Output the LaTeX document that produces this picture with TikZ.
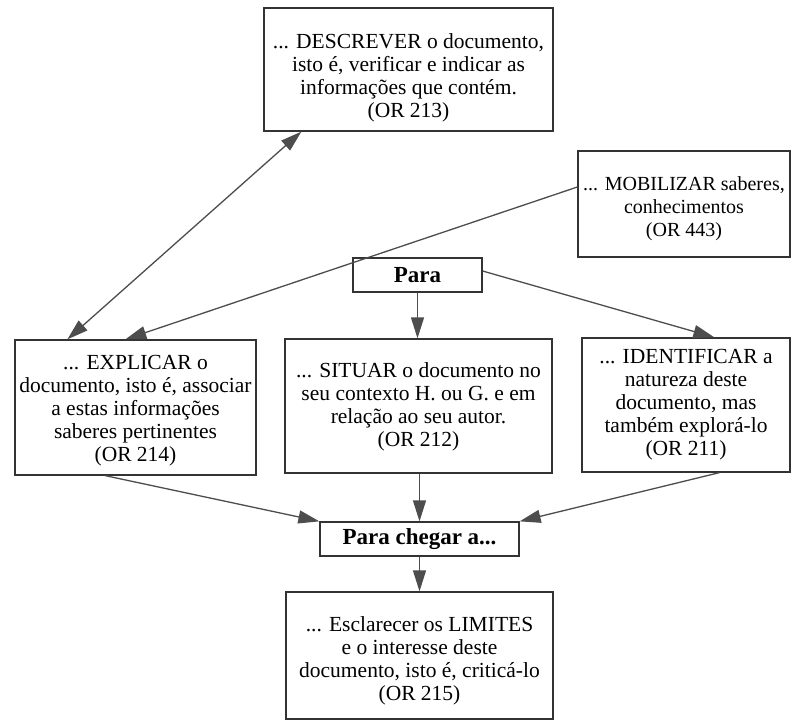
\documentclass[tikz,border=0pt]{standalone}
\usepackage{fontspec}
\setmainfont{Liberation Serif}
\usetikzlibrary{arrows.meta}
\definecolor{ink}{HTML}{333333}
\definecolor{lead}{HTML}{4D4D4D}
% centred block of lines, lowered a little inside its box; it never widens the box
\newsavebox\blockbox
\newcommand\lowblock[2][3.5pt]{%
  \sbox\blockbox{\makebox[0pt]{\begin{tabular}{@{}c@{}}#2\end{tabular}}}%
  \raisebox{-#1}[\ht\blockbox][\dp\blockbox]{\usebox\blockbox}}
\begin{document}
\begin{tikzpicture}[x=1pt,y=-1pt,
  box/.style={draw=ink,line width=1.3pt,fill=white,rectangle,inner sep=0pt,
    text=black,font=\fontsize{21.5}{23}\selectfont},
  tag/.style={box,font=\fontsize{23}{23}\selectfont\bfseries},
  link/.style={draw=lead,line width=1.3pt,-{Triangle[length=21pt,width=13pt]}},
  twoway/.style={draw=lead,line width=1.3pt,
    {Triangle[length=21pt,width=13pt]}-{Triangle[length=21pt,width=13pt]}}]
\useasboundingbox (0,0) rectangle (792,723);
\fill[white] (0,0) rectangle (792,723);

% boxes
\node[box,minimum width=289pt,minimum height=123pt] (top) at (408.5,69.5)
  {\lowblock[8.5pt]{... DESCREVER o documento,\\ isto é, verificar e indicar as\\ informações que contém.\\ (OR 213)}};
\node[box,minimum width=212pt,minimum height=106pt,font=\fontsize{20}{23}\selectfont] (mob) at (684,204)
  {\lowblock[4.5pt]{... MOBILIZAR saberes,\\ conhecimentos\\ (OR 443)}};
\node[tag,minimum width=129pt,minimum height=34pt] (para) at (417.5,275) {Para};
\node[box,minimum width=241pt,minimum height=135pt] (exp) at (135.5,407.5)
  {\lowblock[3.5pt]{... EXPLICAR o\\ documento, isto é, associar\\ a estas informações\\ saberes pertinentes\\ (OR 214)}};
\node[box,minimum width=267pt,minimum height=134pt] (sit) at (418.5,406)
  {\lowblock[1.5pt]{... SITUAR o documento no\\ seu contexto H. ou G. e em\\ relação ao seu autor.\\ (OR 212)}};
\node[box,minimum width=208pt,minimum height=134pt] (ide) at (686,405)
  {\lowblock[0pt]{... IDENTIFICAR a\\ natureza deste\\ documento, mas\\ também explorá-lo\\ (OR 211)}};
\node[tag,minimum width=199pt,minimum height=34pt] (pca) at (419.5,539) {Para chegar a...};
\node[box,minimum width=267pt,minimum height=127pt] (bot) at (419.5,655.5)
  {\lowblock[6pt]{... Esclarecer os LIMITES\\ e o interesse deste\\ documento, isto é, criticá-lo\\ (OR 215)}};

% connectors
\draw[twoway] ([xshift=38pt]top.south west) -- ([xshift=53pt]exp.north west);
\draw[link] ([yshift=17pt]mob.west) -- ([xshift=111pt]exp.north west);
\draw[link] (para.south) -- (para.south |- sit.north);
\draw[link] ([yshift=4pt]para.east) -- ([xshift=133pt]ide.north west);
\draw[link] ([xshift=91pt]exp.south west) -- (pca.north west);
\draw[link] (sit.south -| pca.north) -- (pca.north);
\draw[link] ([xshift=138pt]ide.south west) -- (pca.north east);
\draw[link] (pca.south) -- (pca.south |- bot.north);
\end{tikzpicture}
\end{document}
